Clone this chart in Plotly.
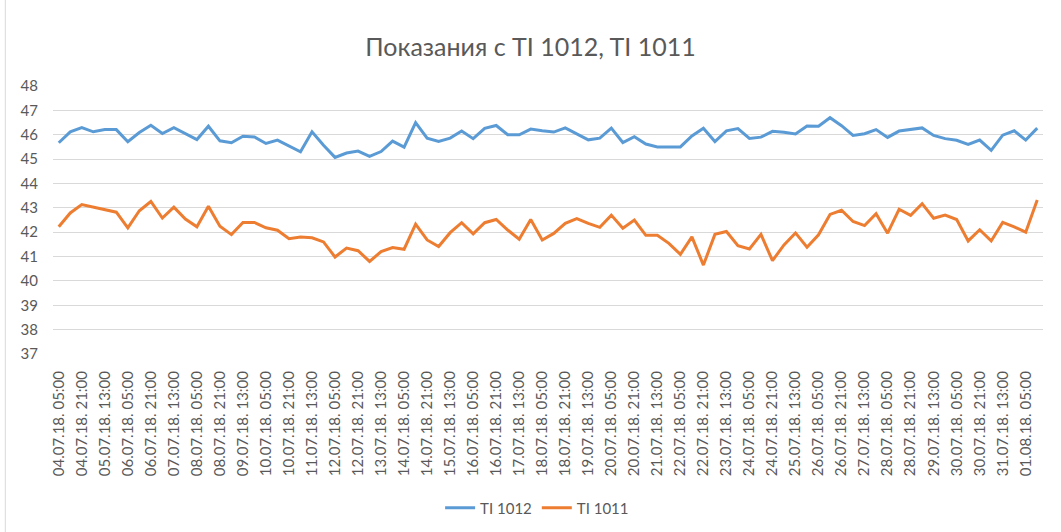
import plotly.graph_objects as go
from datetime import datetime, timedelta

# Category labels: 8-hour steps from 04.07.18 05:00
start = datetime(2018, 7, 4, 5, 0)
n_points = 86
categories = [(start + timedelta(hours=8 * i)).strftime("%d.%m.%y. %H:%M") for i in range(n_points)]

ti1012 = [45.67, 46.12, 46.29, 46.12, 46.21, 46.21, 45.71, 46.09, 46.39, 46.05,
          46.29, 46.05, 45.80, 46.35, 45.75, 45.67, 45.94, 45.91, 45.64, 45.78,
          45.55, 45.30, 46.12, 45.57, 45.07, 45.25, 45.33, 45.11, 45.31, 45.74,
          45.49, 46.50, 45.86, 45.72, 45.86, 46.15, 45.84, 46.26, 46.38, 46.00,
          46.00, 46.23, 46.16, 46.11, 46.28, 46.04, 45.79, 45.86, 46.27, 45.68,
          45.92, 45.62, 45.50, 45.50, 45.50, 45.95, 46.27, 45.72, 46.16, 46.25,
          45.85, 45.90, 46.14, 46.10, 46.03, 46.36, 46.35, 46.70, 46.37, 45.97,
          46.04, 46.21, 45.89, 46.15, 46.22, 46.28, 45.97, 45.84, 45.77, 45.60,
          45.78, 45.36, 45.98, 46.16, 45.78, 46.27]

ti1011 = [42.22, 42.79, 43.13, 43.03, 42.95, 42.82, 42.18, 42.88, 43.26, 42.58,
          43.03, 42.54, 42.22, 43.06, 42.24, 41.90, 42.40, 42.40, 42.18, 42.08,
          41.73, 41.80, 41.77, 41.60, 40.98, 41.35, 41.24, 40.80, 41.20, 41.37,
          41.30, 42.33, 41.68, 41.41, 41.98, 42.39, 41.93, 42.39, 42.52, 42.09,
          41.71, 42.52, 41.68, 41.95, 42.36, 42.56, 42.36, 42.20, 42.70, 42.16,
          42.50, 41.87, 41.87, 41.54, 41.09, 41.81, 40.65, 41.91, 42.03, 41.45,
          41.31, 41.91, 40.83, 41.48, 41.97, 41.38, 41.89, 42.73, 42.90, 42.44,
          42.27, 42.76, 41.96, 42.94, 42.69, 43.17, 42.57, 42.70, 42.52, 41.64,
          42.10, 41.64, 42.40, 42.22, 42.00, 43.32]

y_ticks = list(range(37, 49))

x_idx = list(range(n_points))
tick_idx = x_idx[::2]
tick_txt = [categories[i] for i in tick_idx]

FONT = "Lato"
GREY = "#595959"

fig = go.Figure()
fig.add_trace(go.Scatter(x=x_idx, y=ti1012, mode="lines", name="TI 1012",
                         line=dict(color="#5B9BD5", width=3), customdata=categories,
                         hovertemplate="%{customdata}: %{y}<extra>TI 1012</extra>"))
fig.add_trace(go.Scatter(x=x_idx, y=ti1011, mode="lines", name="TI 1011",
                         line=dict(color="#ED7D31", width=3), customdata=categories,
                         hovertemplate="%{customdata}: %{y}<extra>TI 1011</extra>"))

fig.update_layout(
    width=1061, height=532,
    margin=dict(l=53, r=18, t=86, b=178, autoexpand=False),
    paper_bgcolor="white", plot_bgcolor="white",
    font=dict(family=FONT, color=GREY),
    title=dict(text="Показания с TI 1012, TI 1011", x=0.5, xanchor="center",
               y=1 - 47 / 532, yanchor="middle",
               font=dict(family=FONT, size=25, color=GREY)),
    showlegend=True,
    legend=dict(orientation="h", x=0.489, xanchor="center", y=-0.575, yanchor="middle",
                font=dict(family=FONT, size=15, color=GREY), bgcolor="rgba(0,0,0,0)",
                tracegroupgap=0),
    xaxis=dict(range=[-0.5, n_points - 0.5], tickmode="array", tickvals=tick_idx,
               ticktext=tick_txt, tickangle=-90, showgrid=False, zeroline=False,
               showline=False, ticks="", tickfont=dict(family=FONT, size=15, color=GREY),
               ticklabelstandoff=13, automargin=False),
    yaxis=dict(range=[37, 48], tickmode="array", tickvals=y_ticks, showgrid=True,
               gridcolor="#d9d9d9", gridwidth=1, zeroline=False, showline=False,
               ticks="", tickfont=dict(family=FONT, size=15, color=GREY),
               ticklabelstandoff=14, automargin=False),
    shapes=[dict(type="line", xref="paper", yref="paper", x0=-47.7 / 990, x1=-47.7 / 990,
                 y0=-2, y1=2, line=dict(color="#d9d9d9", width=1))],
)

fig.write_html("out.html", config={"displayModeBar": False},
               post_script="document.body.style.margin='0';")
